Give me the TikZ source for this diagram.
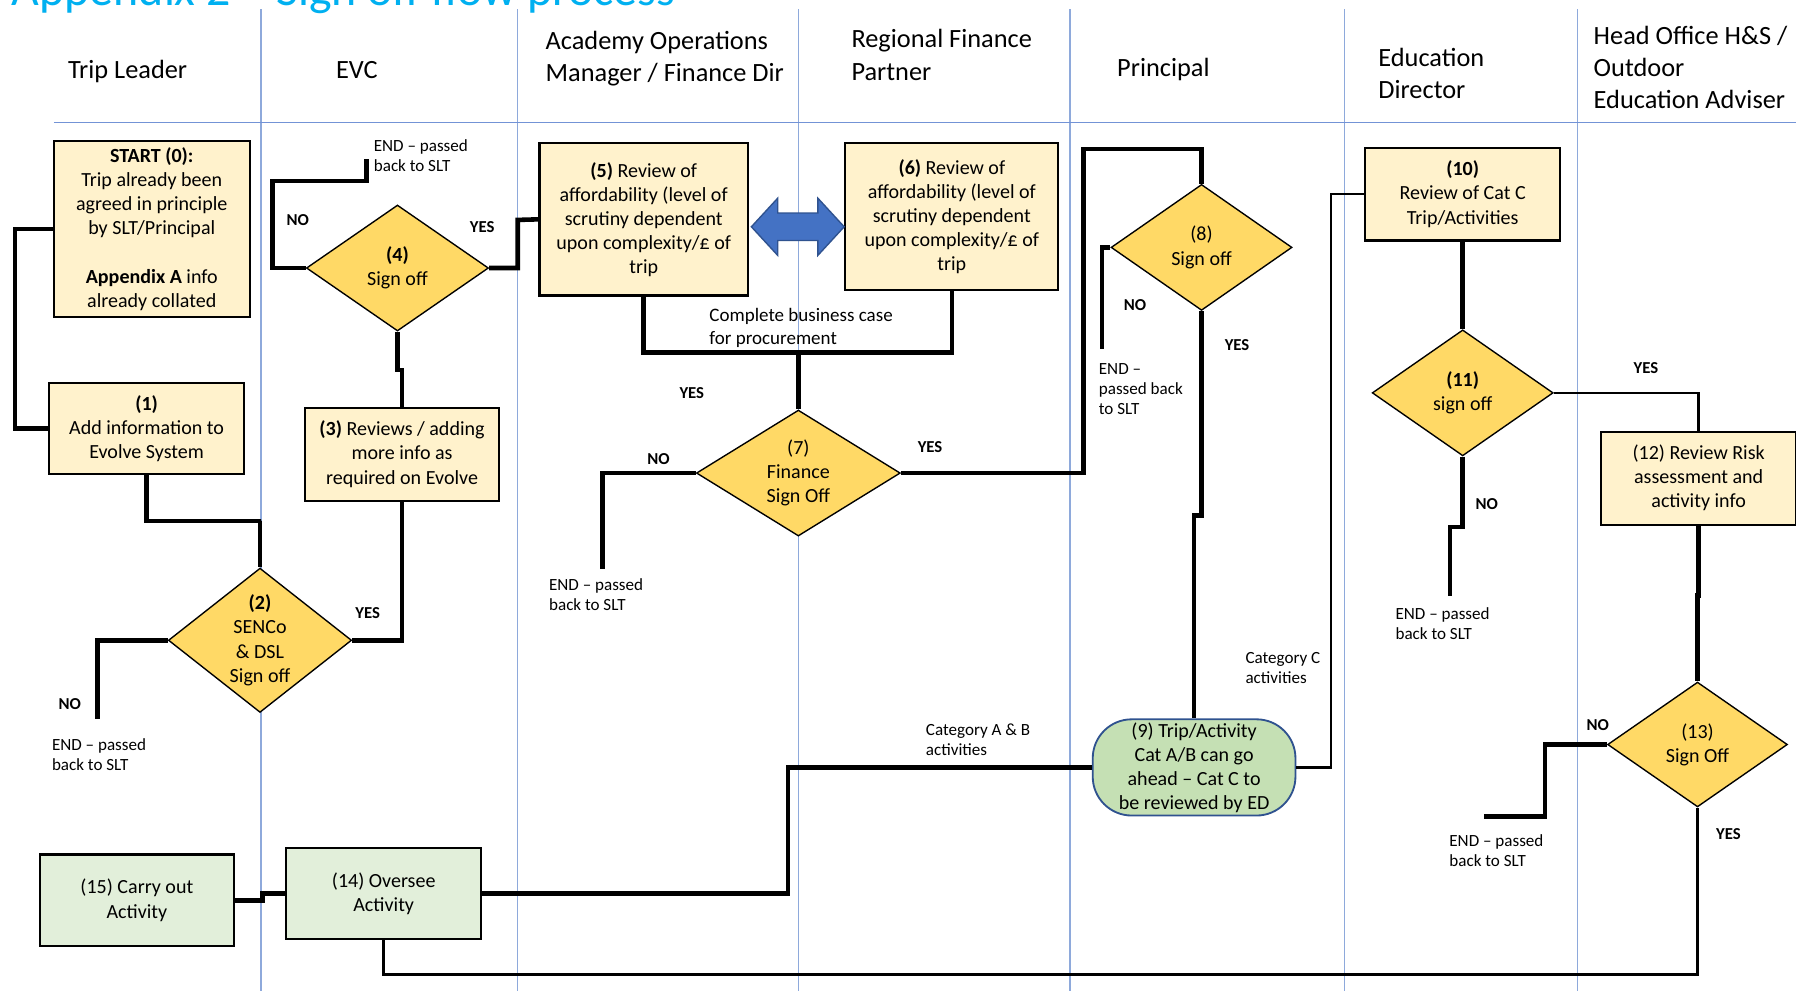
\documentclass[tikz,border=0pt]{standalone}
\usepackage{fontspec}
\setmainfont{Carlito}
\usetikzlibrary{shapes.geometric}
\definecolor{lanec}{HTML}{8EA9DB}
\definecolor{hlanec}{HTML}{7393D6}
\definecolor{boxy}{HTML}{FFF2CC}
\definecolor{diay}{HTML}{FFD966}
\definecolor{boxg}{HTML}{E2EFDA}
\definecolor{boxgg}{HTML}{C5E0B4}
\definecolor{darkbl}{HTML}{2F528F}
\definecolor{arrowbl}{HTML}{4472C4}
\definecolor{titlec}{HTML}{00B0F0}
\newcommand\myboxfont{\fontsize{8.75}{10.5}\selectfont}
\newcommand\myhdrfont{\fontsize{11.5}{14}\selectfont}
\newcommand\mysmallfont{\fontsize{7.45}{8.7}\selectfont}
\newcommand\mymidfont{\fontsize{8.3}{10}\selectfont}
\newcommand\myynfont{\fontsize{7.3}{8.7}\selectfont\bfseries}
\tikzset{
  lane/.style={draw=lanec, line width=0.6pt},
  ybox/.style={draw=black, line width=0.9pt, fill=boxy, inner sep=0pt, align=center, font=\myboxfont},
  gbox/.style={draw=black, line width=0.9pt, fill=boxg, inner sep=0pt, align=center, font=\myboxfont},
  dia/.style={diamond, draw=black, line width=0.6pt, fill=diay, inner sep=0pt},
  diatext/.style={align=center, font=\myboxfont, inner sep=0pt},
  conn/.style={line width=2pt, line join=miter},
  thinconn/.style={line width=1.1pt, line join=miter},
  yn/.style={font=\myynfont, inner sep=0pt},
  endt/.style={anchor=west, align=left, font=\mysmallfont, inner sep=0pt},
  hdr/.style={anchor=west, align=left, font=\myhdrfont, inner sep=0pt},
}
\begin{document}
\begin{tikzpicture}[x=0.5pt, y=-0.5pt]
\fill[white] (0,0) rectangle (1568,865);
\useasboundingbox (0,0) rectangle (1568,865);

% title (cut off at the top edge, as in the reference)
\node[anchor=base west, font=\fontsize{20.9}{25}\selectfont, text=titlec, inner sep=0pt] (title) at (10,4.7) {Appendix 2 -- Sign off flow process};

% lanes
\foreach \lx in {228,452,697,934,1174,1377} {
  \draw[lane] (\lx,8) -- (\lx,865);
}
\draw[draw=hlanec, line width=0.7pt] (47,107) -- (1568,107);

% headers
\node[hdr] (h1) at (59,62) {Trip Leader};
\node[hdr] (h2) at (293,61) {EVC};
\node[hdr] (h3) at (476,51) {Academy Operations\\Manager / Finance Dir};
\node[hdr] (h4) at (743,48) {Regional Finance\\Partner};
\node[hdr] (h5) at (975,61) {Principal};
\node[hdr] (h6) at (1203,64) {Education\\Director};
\node[hdr] (h7) at (1391,59) {Head Office H\&S /\\Outdoor\\Education Adviser};

% boxes
\node[ybox, minimum width=85.5pt, minimum height=77pt] (s0) at (132.5,200)
  {\textbf{START (0):}\\Trip already been\\agreed in principle\\by SLT/Principal\\[10.5pt]\textbf{Appendix A} info\\already collated};
\node[ybox, minimum width=85pt, minimum height=40pt] (n1) at (128,374)
  {\textbf{(1)}\\Add information to\\Evolve System};
\node[ybox, minimum width=85pt, minimum height=40.5pt] (n3) at (351,396.5)
  {\textbf{(3)} Reviews / adding\\more info as\\required on Evolve};
\node[ybox, minimum width=91pt, minimum height=66.5pt] (n5) at (562,191.5)
  {\textbf{(5)} Review of\\affordability (level of\\scrutiny dependent\\upon complexity/£ of\\trip};
\node[ybox, minimum width=93pt, minimum height=64pt] (n6) at (831,189)
  {\textbf{(6)} Review of\\affordability (level of\\scrutiny dependent\\upon complexity/£ of\\trip};
\node[ybox, minimum width=85pt, minimum height=40.5pt] (n10) at (1277,169.5)
  {\textbf{(10)}\\Review of Cat C\\Trip/Activities};
\node[ybox, minimum width=85pt, minimum height=40.5pt] (n12) at (1483,417.5)
  {(12) Review Risk\\assessment and\\activity info};
\node[gbox, minimum width=85pt, minimum height=40pt] (n14) at (335,780)
  {(14) Oversee\\Activity};
\node[gbox, minimum width=84.5pt, minimum height=40pt] (n15) at (119.5,786)
  {(15) Carry out\\Activity};
\node[draw=darkbl, line width=0.8pt, fill=boxgg, rounded corners=17pt, inner sep=0pt, align=center, font=\myboxfont, minimum width=88.5pt, minimum height=42pt] (n9) at (1042.5,670)
  {(9) Trip/Activity\\Cat A/B can go\\ahead -- Cat C to\\be reviewed by ED};

% diamonds
\node[dia, minimum width=80pt, minimum height=63pt] (d2) at (227,559) {};
\node[diatext] (t2) at (d2.center) {\textbf{(2)}\\SENCo\\\& DSL\\Sign off};
\node[dia, minimum width=79.5pt, minimum height=55pt] (d4) at (347,234) {};
\node[diatext] (t4) at (d4.center) {\textbf{(4)}\\Sign off};
\node[dia, minimum width=89pt, minimum height=55pt] (d7) at (697,413) {};
\node[diatext] (t7) at (d7.center) {(7)\\Finance\\Sign Off};
\node[dia, minimum width=79pt, minimum height=55pt] (d8) at (1049,216) {};
\node[diatext] (t8) at (d8.center) {(8)\\Sign off};
\node[dia, minimum width=79pt, minimum height=55pt] (d11) at (1277,343) {};
\node[diatext] (t11) at (d11.center) {\textbf{(11)}\\sign off};
\node[dia, minimum width=78.5pt, minimum height=54.5pt] (d13) at (1482,650) {};
\node[diatext] (t13) at (d13.center) {(13)\\Sign Off};

% double arrow between 5 and 6
\draw[fill=arrowbl, draw=darkbl, line width=0.6pt, line join=miter]
  (656,198) -- (679,173) -- (679,186) -- (714,186) -- (714,173) -- (737,198)
  -- (714,223) -- (714,210) -- (679,210) -- (679,223) -- cycle;

% end coordinates
\coordinate (e2) at (85,628);
\coordinate (e4) at (320,139);
\coordinate (e7) at (526,497);
\coordinate (e8) at (962,305);
\coordinate (e11) at (1266,520);
\coordinate (e13) at (1296,713);
\coordinate (bc) at (697,308);

% connectors
\draw[conn] (s0.west) -- (13,200) |- (n1.west);
\draw[conn] (n1.south) |- (228,455) -| (d2.north);
\draw[conn] (d2.east) -| (n3.south);
\draw[conn] (d2.west) -| (e2);
\draw[conn] (n3.north) -- (351,323) -| (d4.south);
\draw[conn] (d4.west) -| (238,158) -| (e4);
\draw[conn] (d4.east) -| (452,192) -- (n5.west);
\draw[conn] (n5.south) |- (bc) -| (n6.south);
\draw[conn] (bc) -- (d7.north);
\draw[conn] (d7.west) -| (e7);
\draw[conn] (d7.east) -| (946,130) -| (d8.north);
\draw[conn] (d8.west) -| (e8);
\draw[conn] (d8.south) -- (1049,450) -| (n9.north);
\draw[thinconn] (n9.east) -| (1162,169.5) -- (n10.west);
\draw[conn] (n9.west) -| (688,780) -- (n14.east);
\draw[conn] (n10.south) -- (d11.north);
\draw[thinconn] (d11.east) -| (n12.north);
\draw[conn] (d11.south) -- (1277,460) -| (e11);
\draw[conn] (n12.south) -- (1483,520) -| (d13.north);
\draw[conn] (d13.west) -| (1349,713) -- (e13);
\draw[thinconn] (d13.south) |- (335,851) -- (n14.south);
\draw[conn] (n14.west) -- (229,780) |- (n15.east);

% YES / NO labels
\node[yn] (l1) at (321,535) {YES};
\node[yn] (l2) at (61,615) {NO};
\node[yn] (l3) at (260,192) {NO};
\node[yn] (l4) at (421,198) {YES};
\node[yn] (l5) at (604,343) {YES};
\node[yn] (l6) at (575,401) {NO};
\node[yn] (l7) at (812,390) {YES};
\node[yn] (l8) at (991,266) {NO};
\node[yn] (l9) at (1080,301) {YES};
\node[yn] (l10) at (1437,321) {YES};
\node[yn] (l11) at (1298,440) {NO};
\node[yn] (l12) at (1395,633) {NO};
\node[yn] (l13) at (1509,728) {YES};

% END and other texts
\node[endt] (x1) at (45,658.5) {END -- passed\\back to SLT};
\node[endt] (x2) at (326,135.5) {END -- passed\\back to SLT};
\node[endt] (x3) at (479,519.5) {END -- passed\\back to SLT};
\node[endt] (x4) at (959,340) {END --\\passed back\\to SLT};
\node[endt] (x5) at (1218,544.5) {END -- passed\\back to SLT};
\node[endt] (x6) at (1265,742.5) {END -- passed\\back to SLT};
\node[endt, font=\mymidfont] (x7) at (619,286) {Complete business case\\for procurement};
\node[endt] (x8) at (808,646) {Category A \& B\\activities};
\node[endt] (x9) at (1087,583.5) {Category C\\activities};
\end{tikzpicture}
\end{document}
